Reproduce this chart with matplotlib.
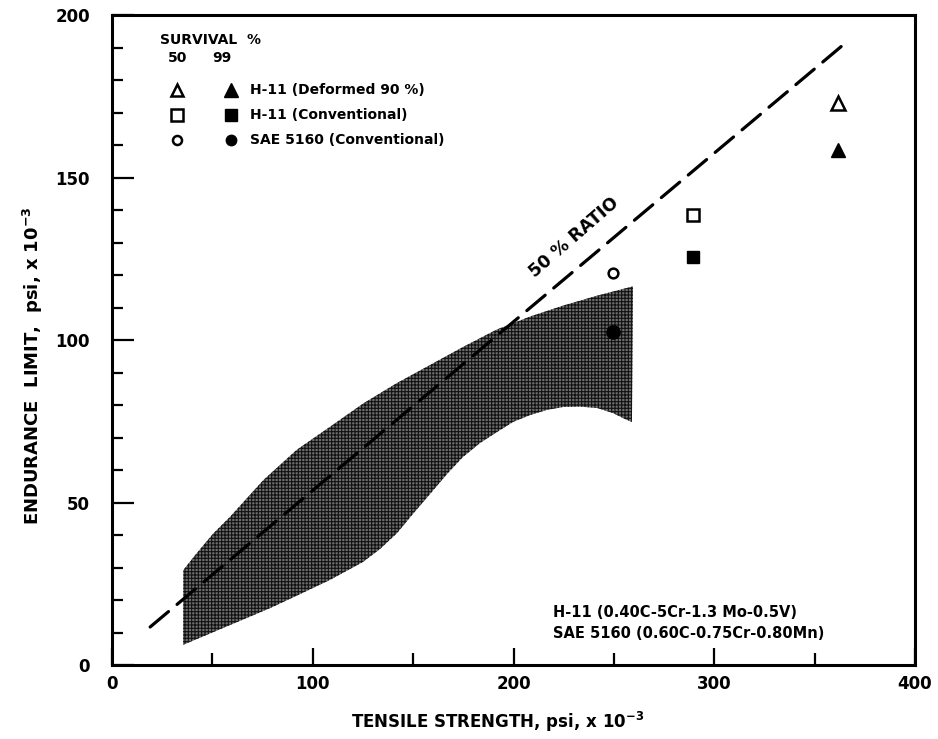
import numpy as np
import matplotlib
matplotlib.use('Agg')
import matplotlib.pyplot as plt

plt.rcParams['font.family'] = ['DejaVu Sans']
plt.rcParams['font.weight'] = 'bold'
plt.rcParams['hatch.linewidth'] = 0.8

# Scatter band of published fatigue data (upper and lower edges)
band_upper_x = [35.5, 42.2, 50.5, 58.8, 75.4, 92.0, 108.6, 125.2, 141.8, 158.4,
                175.0, 191.6, 208.2, 224.8, 241.4, 259.5]
band_upper_y = [29.2, 34.4, 40.5, 45.6, 56.9, 66.2, 73.3, 80.5, 86.7, 92.3,
                97.9, 103.2, 107.2, 110.6, 113.6, 116.5]
band_lower_x = [35.4, 58.8, 78.7, 93.6, 108.6, 125.0, 133.5, 142.0, 149.9, 158.4,
                166.9, 174.8, 183.3, 191.8, 199.8, 208.2, 216.7, 224.7, 233.1,
                241.6, 249.6, 256.5, 259.0]
band_lower_y = [6.2, 12.3, 17.5, 21.8, 26.2, 31.7, 35.7, 40.6, 46.5, 52.6,
                58.8, 64.0, 68.3, 71.7, 74.8, 76.9, 78.5, 79.4, 79.5,
                79.1, 77.5, 75.4, 74.8]

# 50 % ratio line end points
ratio_x = [19.0, 366.5]
ratio_y = [11.7, 192.0]

# Endurance limits: 50 % survival (open) and 99 % survival (filled)
steels = ['H-11 (Deformed 90 %)', 'H-11 (Conventional)', 'SAE 5160 (Conventional)']
markers = ['^', 's', 'o']
tensile = [361.5, 289.5, 249.5]
limit_50 = [172.9, 138.5, 120.6]
limit_99 = [158.5, 125.5, 102.5]
size_50 = [10, 9, 7]
size_99 = [10.5, 9, 9.5]

fig = plt.figure(figsize=(9.38, 7.39), dpi=100)
ax = fig.add_axes([0.1194, 0.1001, 0.8561, 0.8796])

# shaded band
poly_x = band_upper_x + band_lower_x[::-1]
poly_y = band_upper_y + band_lower_y[::-1]
ax.fill(poly_x, poly_y, facecolor='#6e6e6e', edgecolor='#111111',
        linewidth=0, hatch='+++++', zorder=1)

ax.plot(ratio_x, ratio_y, color='black', lw=2.3, dashes=(7.5, 3.5),
        solid_capstyle='round', dash_capstyle='round', zorder=2)
ax.text(230.0, 131.5, '50 % RATIO', rotation=41, fontsize=12.5,
        ha='center', va='center', rotation_mode='anchor')

for m, x, y50, y99, s50, s99 in zip(markers, tensile, limit_50, limit_99, size_50, size_99):
    ax.plot(x, y50, marker=m, ms=s50, mfc='white', mec='black', mew=1.8,
            linestyle='none', zorder=3)
    ax.plot(x, y99, marker=m, ms=s99, mfc='black', mec='black', mew=1.0,
            linestyle='none', zorder=3)

# hand-drawn style key in the upper left
ax.text(23.9, 192.3, 'SURVIVAL  %', fontsize=10, ha='left', va='center')
ax.text(32.6, 186.8, '50', fontsize=10, ha='center', va='center')
ax.text(54.8, 186.8, '99', fontsize=10, ha='center', va='center')
key_rows = [176.9, 169.2, 161.5]
key_sizes = [9, 8, 6.5]
for m, row, s, name in zip(markers, key_rows, key_sizes, steels):
    ax.plot(32.4, row, marker=m, ms=s, mfc='white', mec='black', mew=1.8,
            linestyle='none')
    ax.plot(59.3, row, marker=m, ms=s + 1, mfc='black', mec='black',
            linestyle='none')
    ax.text(68.7, row, name, fontsize=10, ha='left', va='center')

ax.text(219.5, 16.3, 'H-11 (0.40C-5Cr-1.3 Mo-0.5V)', fontsize=10.5,
        ha='left', va='center')
ax.text(219.5, 9.8, 'SAE 5160 (0.60C-0.75Cr-0.80Mn)', fontsize=10.5,
        ha='left', va='center')

ax.set_xlim(0, 400)
ax.set_ylim(0, 200)
ax.set_xticks([0, 100, 200, 300, 400])
ax.set_xticks([50, 150, 250, 350], minor=True)
ax.set_yticks([0, 50, 100, 150, 200])
ax.set_yticks(np.arange(10, 200, 10), minor=True)

for side in ['top', 'right', 'bottom', 'left']:
    ax.spines[side].set_linewidth(2.2)
ax.tick_params(axis='both', which='both', direction='in', width=1.6,
               top=False, right=False, labelsize=12)
ax.tick_params(axis='x', which='major', length=12, pad=7)
ax.tick_params(axis='x', which='minor', length=8.5)
ax.tick_params(axis='y', which='major', length=16, pad=16)
ax.tick_params(axis='y', which='minor', length=8)

fig.text(0.53, 0.023, r'TENSILE STRENGTH, psi, x 10$^{\mathbf{-3}}$', fontsize=12,
         ha='center', va='center')
fig.text(0.035, 0.505, r'ENDURANCE  LIMIT,  psi, x 10$^{\mathbf{-3}}$', fontsize=13,
         ha='center', va='center', rotation=90)

fig.savefig('out.png', dpi=100)
